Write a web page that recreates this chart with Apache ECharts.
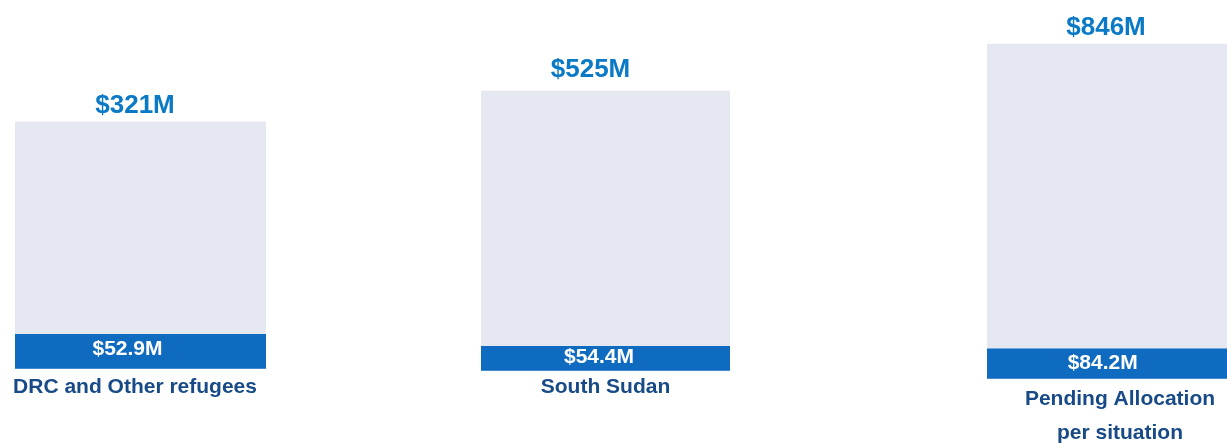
<!DOCTYPE html>
<html>
<head>
<meta charset="utf-8">
<script src="https://cdn.jsdelivr.net/npm/echarts@6/dist/echarts.min.js"></script>
<style>
html,body{margin:0;padding:0;background:#fff;}
#chart{width:1227px;height:443px;}
</style>
</head>
<body>
<div id="chart"></div>
<script>
// ---- data ----
var categories = ['DRC and Other refugees', 'South Sudan', 'Pending Allocation\nper situation'];
var totalRequirements = [321, 525, 846];   // $M
var fundedAmounts = [52.9, 54.4, 84.2];     // $M

// ---- layout (per panel) ----
var panels = [
  {left: 15,  width: 251, top: 121.7, height: 247, totalOff: [-5.5, 2], fundOff: [-13, -2], catMargin: 2, catPad: [0, 11, 0, 0]},
  {left: 481, width: 249, top: 90.7,  height: 280, totalOff: [-15, -3], fundOff: [-6.5, -1], catMargin: 0, catPad: [0, 0, 0, 0]},
  {left: 987, width: 250, top: 43.7,  height: 335, totalOff: [-6, 2],   fundOff: [-9.3, 0],  catMargin: 4, catPad: [0, 0, 0, 16]}
];
var axisStart = 9;
var FONT = '"Liberation Sans", Arial, sans-serif';

var grids = [], xAxes = [], yAxes = [], series = [];
panels.forEach(function (p, i) {
  grids.push({left: p.left, top: p.top, width: p.width, height: p.height, containLabel: false, outerBoundsMode: 'none'});
  xAxes.push({
    type: 'category', gridIndex: i, data: [categories[i]],
    axisLine: {show: false}, axisTick: {show: false}, splitLine: {show: false},
    axisLabel: {
      interval: 0, margin: p.catMargin, padding: p.catPad,
      color: '#174A86', fontSize: 21, fontWeight: 'bold', fontFamily: FONT, lineHeight: 34
    }
  });
  yAxes.push({type: 'value', gridIndex: i, min: axisStart, max: totalRequirements[i], show: false, splitLine: {show: false}});
  series.push({
    type: 'bar', xAxisIndex: i, yAxisIndex: i, barWidth: '100%', barGap: '-100%', z: 1,
    silent: true, clip: true,
    itemStyle: {color: '#E5E8F1'},
    label: {
      show: true, position: 'top', distance: 5, offset: p.totalOff,
      formatter: function (d) { return '$' + d.value + 'M'; },
      color: '#0A7AC6', fontSize: 26, fontWeight: 'bold', fontFamily: FONT
    },
    data: [totalRequirements[i]]
  });
  series.push({
    type: 'bar', xAxisIndex: i, yAxisIndex: i, barWidth: '100%', barGap: '-100%', z: 2,
    silent: true, clip: true,
    itemStyle: {color: '#0F6BC0'},
    label: {
      show: true, position: 'inside', offset: p.fundOff,
      formatter: function (d) { return '$' + d.value.toFixed(1) + 'M'; },
      color: '#FFFFFF', fontSize: 21, fontWeight: 'bold', fontFamily: FONT
    },
    data: [fundedAmounts[i]]
  });
});

var chart = echarts.init(document.getElementById('chart'), null, {renderer: 'canvas'});
chart.setOption({
  backgroundColor: '#ffffff',
  animation: false,
  grid: grids,
  xAxis: xAxes,
  yAxis: yAxes,
  series: series
});
</script>
</body>
</html>
